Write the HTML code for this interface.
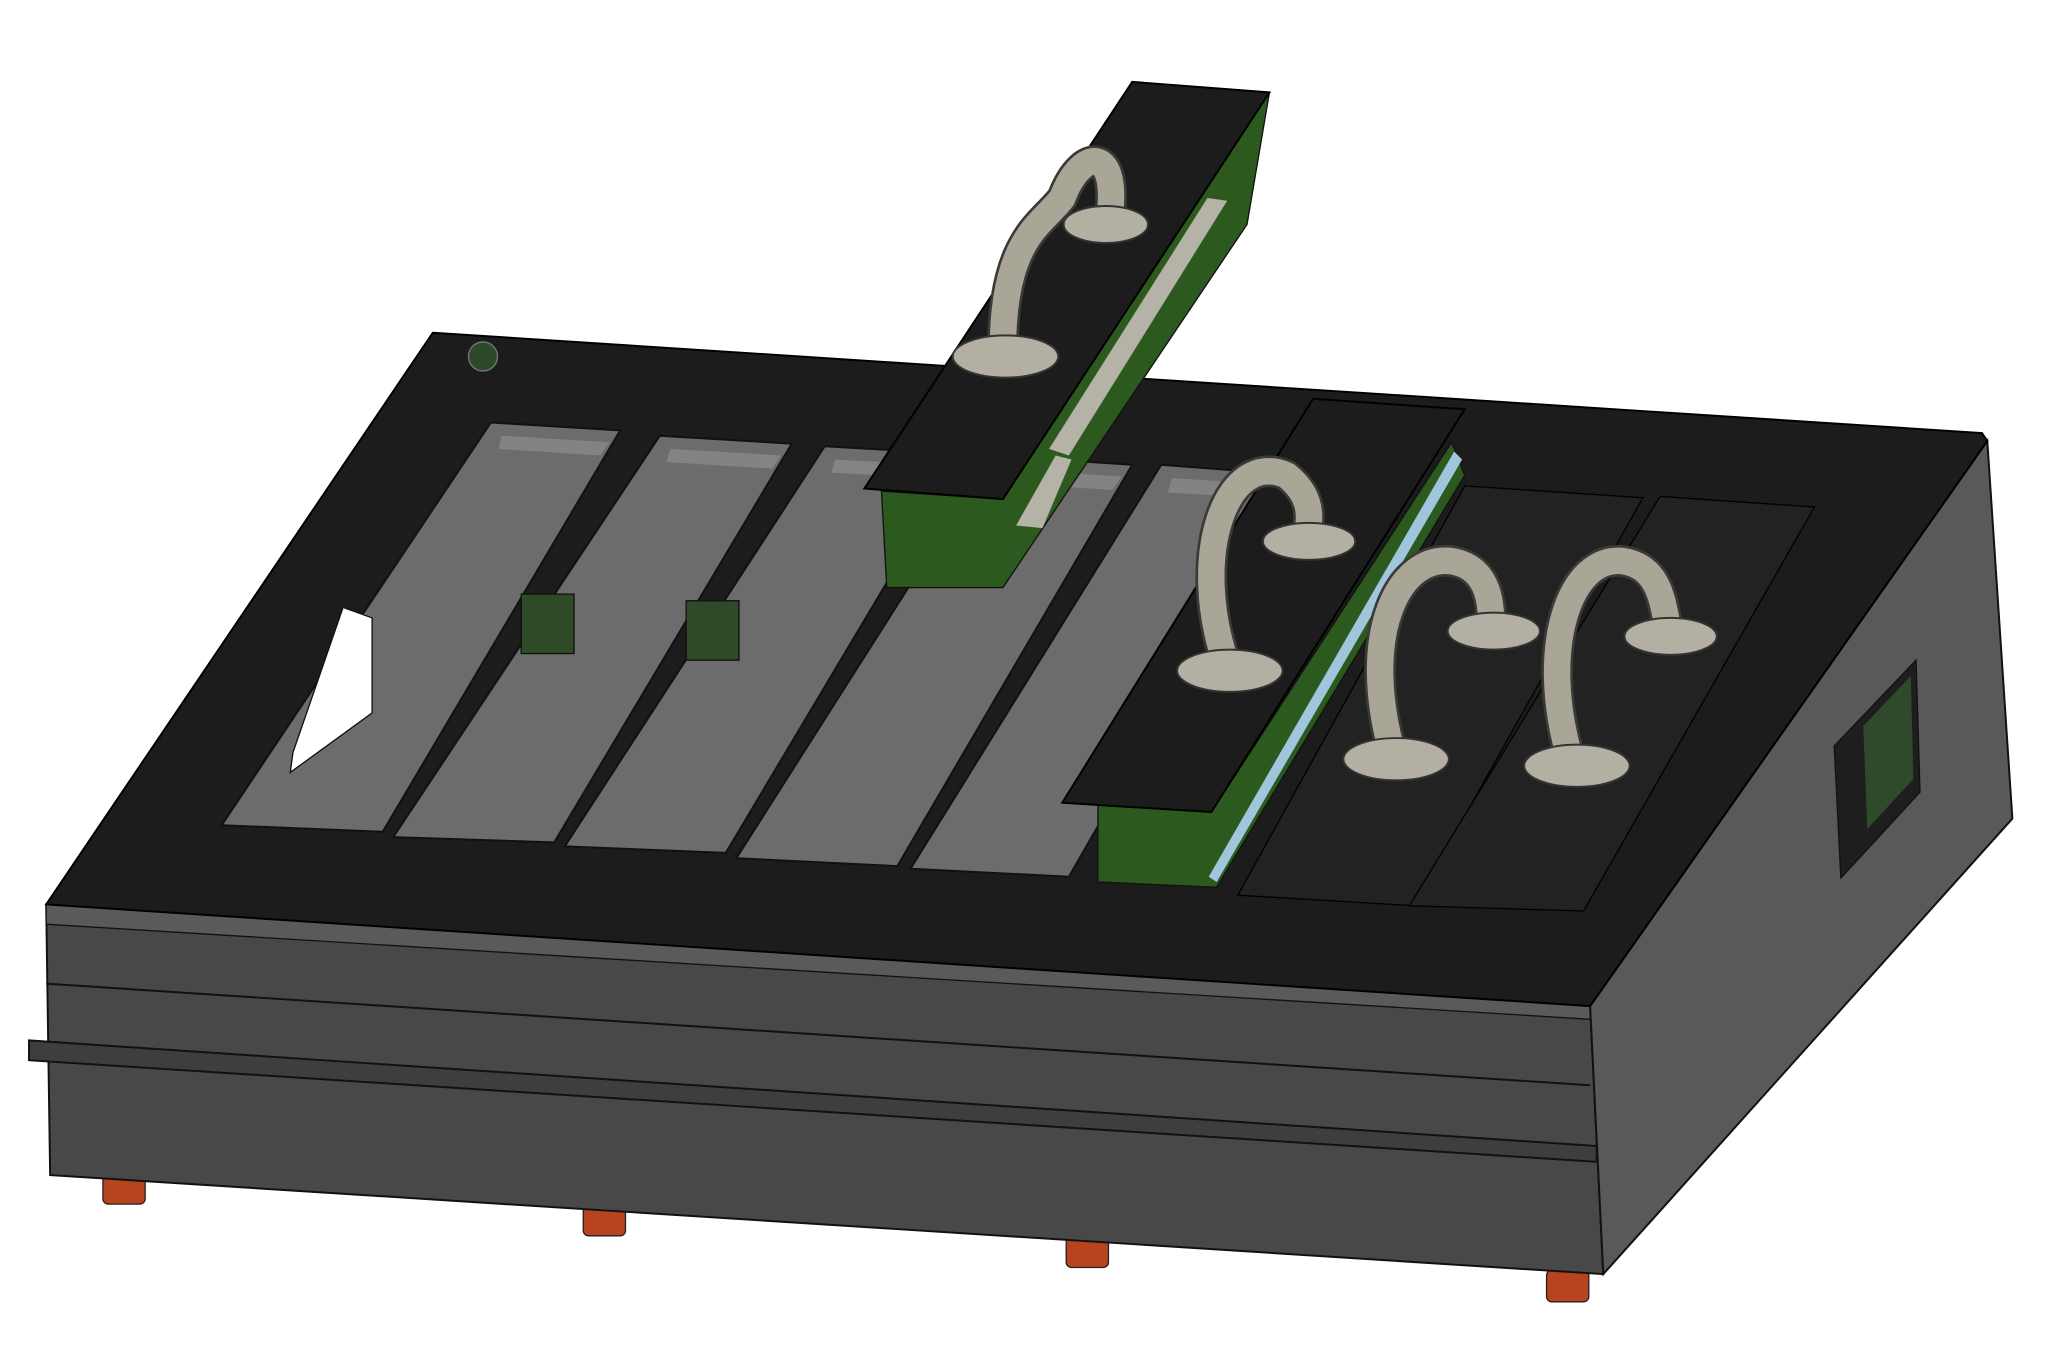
<!DOCTYPE html>
<html><head><meta charset="utf-8"><style>
html,body{margin:0;padding:0;background:#fff;}
svg{display:block;}
</style></head><body>
<svg width="2048" height="1352" viewBox="0 0 1552 1024" preserveAspectRatio="none" xmlns="http://www.w3.org/2000/svg">
<rect width="1552" height="1024" fill="#ffffff"/>
<g fill="#b8431f" stroke="#222" stroke-width="1">
<rect x="78" y="888" width="32" height="24" rx="4"/><rect x="442" y="912" width="32" height="24" rx="4"/>
<rect x="808" y="936" width="32" height="24" rx="4"/><rect x="1172" y="962" width="32" height="24" rx="4"/>
</g>
<polygon points="35,685 1205,762 1215,965 38,890" fill="#484848" stroke="#111" stroke-width="1.5"/>
<polygon points="35,685 1205,762 1205,772 35,700" fill="#5a5a5a" stroke="#111"/>
<line x1="35" y1="745" x2="1205" y2="822" stroke="#111" stroke-width="1.5"/>
<polygon points="22,788 1210,868 1210,880 22,803" fill="#3e3e3e" stroke="#111" stroke-width="1.5"/>
<polygon points="1205,762 1506,334 1525,620 1215,965" fill="#595959" stroke="#111" stroke-width="1.5"/>
<polygon points="1390,565 1452,500 1455,600 1395,665" fill="#1e1e1e" stroke="#111"/>
<polygon points="1412,550 1448,512 1450,590 1415,628" fill="#2f4a2a"/>
<polygon points="328,252 1502,328 1506,334 1205,762 35,685" fill="#1c1c1c" stroke="#000" stroke-width="1.5"/>
<circle cx="366" cy="270" r="11" fill="#2a4a2a" stroke="#777"/>
<g fill="#6c6c6c" stroke="#111" stroke-width="1.5">
<polygon points="372,320 470,326 290,630 168,625"/>
<polygon points="500,330 600,336 420,638 298,634"/>
<polygon points="625,338 730,344 550,646 428,641"/>
<polygon points="752,345 858,352 680,656 558,650"/>
<polygon points="880,352 985,360 810,664 690,658"/>
</g>
<g fill="#8a8a8a" opacity="0.8">
<polygon points="380,330 462,335 455,345 378,340"/>
<polygon points="508,340 592,345 585,355 505,350"/>
<polygon points="633,348 722,353 715,363 630,358"/>
<polygon points="760,355 850,361 843,371 757,366"/>
<polygon points="888,362 977,368 970,378 885,373"/>
</g>
<polygon points="260,460 282,468 282,540 220,585 222,570" fill="#ffffff" stroke="#111"/>
<g fill="#2e4a26" stroke="#111"><rect x="395" y="450" width="40" height="45"/><rect x="520" y="455" width="40" height="45"/></g>
<polygon points="1110,368 1245,377 1072,686 938,678" fill="#222" stroke="#000"/>
<polygon points="1258,376 1375,384 1200,690 1068,686" fill="#222" stroke="#000"/>
<polygon points="1100,335 1110,360 922,672 832,668 832,610 918,615" fill="#2c5a1e" stroke="#111"/>
<polygon points="1102,342 1108,348 922,668 916,664" fill="#9fc6dc"/>
<polygon points="995,302 1110,310 918,615 805,608" fill="#1c1c1c" stroke="#000" stroke-width="1.5"/>
<polygon points="962,70 945,170 760,445 672,445 668,372 760,378" fill="#2c5a1e" stroke="#111"/>
<g fill="#b5b3a8"><polygon points="915,150 930,152 810,345 795,340"/><polygon points="800,345 812,348 790,400 770,398"/></g>
<polygon points="858,62 962,70 760,378 655,370" fill="#1c1c1c" stroke="#000" stroke-width="1.5"/>
<g fill="none" stroke="#3a3a38" stroke-width="24" stroke-linecap="round">
<path d="M760,265 C760,180 790,170 805,150 C820,110 850,110 840,170"/>
<path d="M930,505 C900,420 930,340 975,360 C1000,380 990,400 990,410"/>
<path d="M1055,570 C1030,480 1060,420 1100,425 C1130,430 1130,460 1130,475"/>
<path d="M1190,575 C1165,490 1190,420 1230,425 C1260,430 1260,460 1265,480"/>
</g>
<g fill="none" stroke="#a9a697" stroke-width="20" stroke-linecap="round">
<path d="M760,265 C760,180 790,170 805,150 C820,110 850,110 840,170"/>
<path d="M930,505 C900,420 930,340 975,360 C1000,380 990,400 990,410"/>
<path d="M1055,570 C1030,480 1060,420 1100,425 C1130,430 1130,460 1130,475"/>
<path d="M1190,575 C1165,490 1190,420 1230,425 C1260,430 1260,460 1265,480"/>
</g>
<g fill="#b3b0a3" stroke="#333" stroke-width="1.5">
<ellipse cx="762" cy="270" rx="40" ry="16"/><ellipse cx="838" cy="170" rx="32" ry="14"/>
<ellipse cx="932" cy="508" rx="40" ry="16"/><ellipse cx="992" cy="410" rx="35" ry="14"/>
<ellipse cx="1058" cy="575" rx="40" ry="16"/><ellipse cx="1132" cy="478" rx="35" ry="14"/>
<ellipse cx="1195" cy="580" rx="40" ry="16"/><ellipse cx="1266" cy="482" rx="35" ry="14"/>
</g>
</svg>
</body></html>
